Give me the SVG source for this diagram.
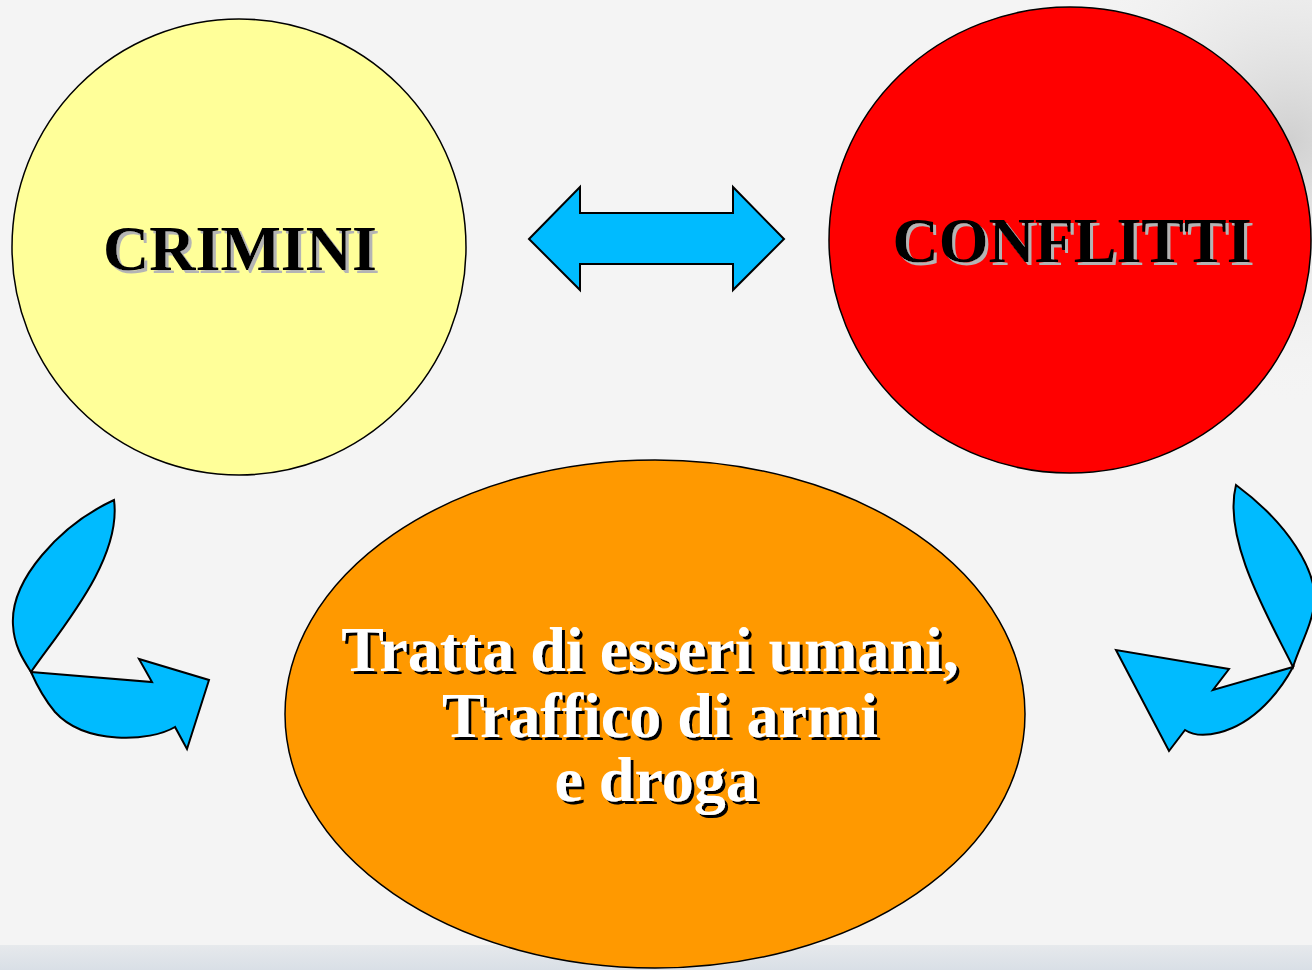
<svg xmlns="http://www.w3.org/2000/svg" width="1312" height="970" viewBox="0 0 1312 970">
<defs>
<radialGradient id="cloud" cx="1290" cy="140" r="260" gradientUnits="userSpaceOnUse">
<stop offset="0" stop-color="#d0d0d0"/>
<stop offset="1" stop-color="#f2f2f2" stop-opacity="0"/>
</radialGradient>
<linearGradient id="band" x1="0" y1="0" x2="0" y2="1">
<stop offset="0" stop-color="#e6e9ec"/>
<stop offset="1" stop-color="#d9dfe6"/>
</linearGradient>
<filter id="grayShadow" x="-10%" y="-20%" width="120%" height="150%">
<feOffset in="SourceAlpha" dx="3" dy="3" result="o"/>
<feFlood flood-color="#b4b4b4"/>
<feComposite in2="o" operator="in" result="s"/>
<feMerge><feMergeNode in="s"/><feMergeNode in="SourceGraphic"/></feMerge>
</filter>
<filter id="blackShadow" x="-10%" y="-20%" width="120%" height="150%">
<feOffset in="SourceAlpha" dx="3" dy="3" result="o"/>
<feFlood flood-color="#000"/>
<feComposite in2="o" operator="in" result="s"/>
<feMerge><feMergeNode in="s"/><feMergeNode in="SourceGraphic"/></feMerge>
</filter>
</defs>
<style>
.shape{stroke:#000;stroke-width:1.5}
.arrow{fill:#00BBFF;stroke:#000;stroke-width:2;stroke-linejoin:miter}
.t{font-family:"Liberation Serif","Times New Roman",serif;font-weight:bold;font-size:64px;text-anchor:middle}
.dark{fill:#000;filter:url(#grayShadow)}
.light{fill:#fff;filter:url(#blackShadow)}
</style>
<rect x="0" y="0" width="1312" height="970" fill="#f4f4f4"/>
<rect x="0" y="0" width="1312" height="970" fill="url(#cloud)"/>
<rect x="0" y="945" width="1312" height="25" fill="url(#band)"/>

<g id="crimini">
<ellipse class="shape" cx="239" cy="247" rx="227" ry="228" fill="#FFFF99"/>
<text class="t dark" x="240" y="270">CRIMINI</text>
</g>

<g id="conflitti">
<ellipse class="shape" cx="1070" cy="240" rx="241" ry="233" fill="#FF0000"/>
<text class="t dark" x="1072" y="262">CONFLITTI</text>
</g>

<g id="traffici">
<ellipse class="shape" cx="655" cy="714" rx="370" ry="254" fill="#FF9900"/>
<text class="t light" x="650" y="671">Tratta di esseri umani,</text>
<text class="t light" x="660" y="737">Traffico di armi</text>
<text class="t light" x="656" y="801">e droga</text>
</g>

<g id="connectors">
<path class="arrow" d="M529,239 L580,187 L580,213 L733,213 L733,187 L784,239 L733,290 L733,264 L580,264 L580,290 Z"/>
<path class="arrow" d="M114,500 C60,525 10,580 13,625 C14,645 22,658 31,672 C60,630 122,560 114,500 Z"/>
<path class="arrow" d="M31,672 L152,682 L139,659 L209,680 L187,749 L175,727 C150,742 85,745 55,712 C45,700 38,688 31,672 Z"/>
<path class="arrow" d="M1236,485 C1290,525 1315,570 1315,600 C1312,625 1300,645 1293,667 C1270,620 1222,540 1236,485 Z"/>
<path class="arrow" d="M1293,667 L1213,690 L1229,669 L1116,650 L1169,751 L1185,730 C1200,740 1235,735 1265,705 C1275,695 1285,682 1293,667 Z"/>
</g>
</svg>
